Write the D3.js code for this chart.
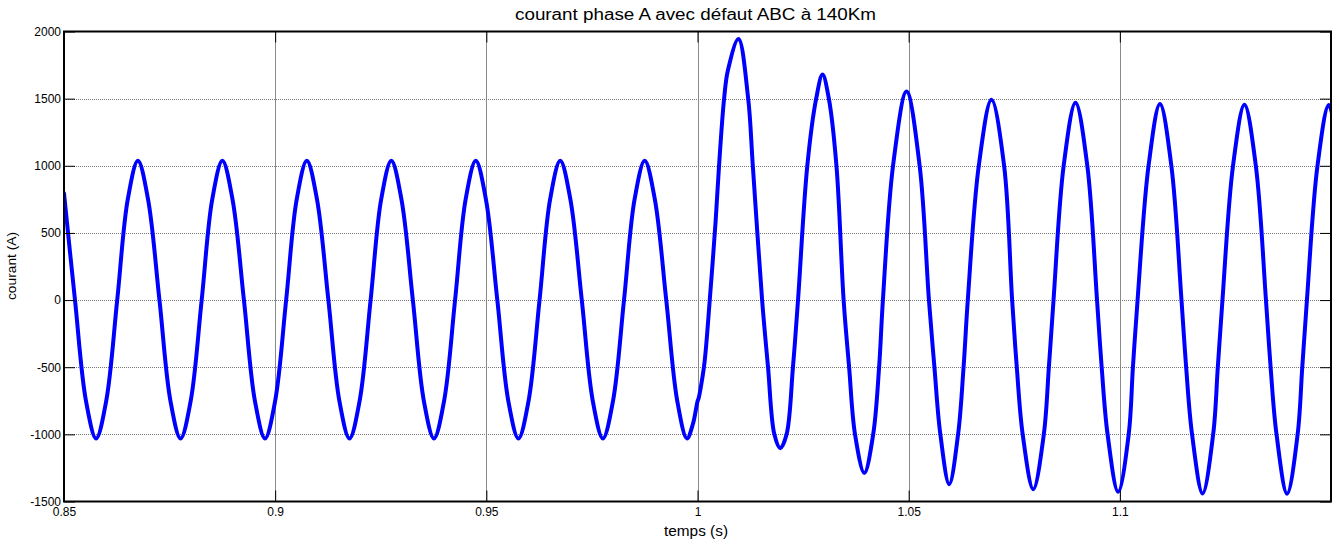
<!DOCTYPE html>
<html>
<head>
<meta charset="utf-8">
<script src="https://cdn.jsdelivr.net/npm/d3@7"></script>
<style>
  html, body { margin: 0; padding: 0; background: #fff; }
  svg { display: block; }
  text { font-family: Arial, "Liberation Sans", sans-serif; fill: #000; }
</style>
</head>
<body>
<svg id="chart" width="1340" height="544"></svg>
<script>
// Phase A current (A) versus time (s), three-phase fault ABC at 140 km applied at t = 1 s.
const chartTitle = "courant phase A avec défaut ABC à 140Km";
const xLabel = "temps (s)";
const yLabel = "courant (A)";

const xTicks = [0.85, 0.9, 0.95, 1, 1.05, 1.1];
const xTickLabels = ["0.85", "0.9", "0.95", "1", "1.05", "1.1"];
const yTicks = [-1500, -1000, -500, 0, 500, 1000, 1500, 2000];
const yTickLabels = ["-1500", "-1000", "-500", "0", "500", "1000", "1500", "2000"];

// Pre-fault steady state (50 Hz, about 1040 A peak)
const preFaultT = [
  0.8500, 0.8526, 0.8552, 0.8576, 0.8600, 0.8626, 0.8651,
  0.8675, 0.8699, 0.8726, 0.8752, 0.8776, 0.8800, 0.8826, 0.8851,
  0.8875, 0.8899, 0.8926, 0.8952, 0.8976, 0.9000, 0.9026, 0.9051,
  0.9075, 0.9099, 0.9126, 0.9152, 0.9176, 0.9200, 0.9226, 0.9251,
  0.9275, 0.9299, 0.9326, 0.9352, 0.9376, 0.9400, 0.9426, 0.9451,
  0.9475, 0.9499, 0.9526, 0.9552, 0.9576, 0.9600, 0.9626, 0.9651,
  0.9675, 0.9699, 0.9726, 0.9752, 0.9776, 0.9800, 0.9826, 0.9851,
  0.9875, 0.9899, 0.9926, 0.9952, 0.9975, 0.9989
];
const preFaultI = [
  795, 0, -750, -1030, -750, 0, 750,
  1037, 750, 0, -750, -1030, -750, 0, 750,
  1037, 750, 0, -750, -1030, -750, 0, 750,
  1037, 750, 0, -750, -1030, -750, 0, 750,
  1037, 750, 0, -750, -1030, -750, 0, 750,
  1037, 750, 0, -750, -1030, -750, 0, 750,
  1037, 750, 0, -750, -1030, -750, 0, 750,
  1037, 750, 0, -750, -1030, -925
];

// Fault transient and post-fault regime
const postFaultT = [
  1.0000, 1.0003, 1.0009, 1.0017, 1.0029, 1.0043, 1.0051, 1.0063, 1.0072,
  1.0097, 1.0120, 1.0131, 1.0153, 1.0167, 1.0182, 1.0196, 1.0211, 1.0226, 1.0238,
  1.0260, 1.0281, 1.0296, 1.0311, 1.0329, 1.0346, 1.0359, 1.0373, 1.0395, 1.0416, 1.0430, 1.0439,
  1.0463, 1.0495, 1.0526, 1.0548, 1.0561, 1.0575, 1.0596, 1.0617, 1.0630, 1.0640,
  1.0666, 1.0696, 1.0726, 1.0745, 1.0756, 1.0770, 1.0795, 1.0820, 1.0832, 1.0843,
  1.0867, 1.0895, 1.0923, 1.0946, 1.0957, 1.0971, 1.0996, 1.1021, 1.1031, 1.1042,
  1.1068, 1.1095, 1.1122, 1.1146, 1.1157, 1.1171, 1.1196, 1.1221, 1.1232, 1.1243,
  1.1268, 1.1295, 1.1322, 1.1346, 1.1357, 1.1371, 1.1396, 1.1421, 1.1432, 1.1443,
  1.1468, 1.1495, 1.1522
];
const postFaultI = [
  -755, -727, -627, -453, 0, 592, 1000, 1500, 1711,
  1944, 1500, 1000, 0, -500, -1000, -1104, -1000, -500, 0,
  1000, 1500, 1679, 1500, 1000, 0, -500, -1000, -1288, -1000, -500, 0,
  1000, 1554, 1000, 0, -500, -1000, -1371, -1000, -500, 0,
  1000, 1492, 1000, 0, -500, -1000, -1408, -1000, -500, 0,
  1000, 1470, 1000, 0, -500, -1000, -1428, -1000, -500, 0,
  1000, 1460, 1000, 0, -500, -1000, -1440, -1000, -500, 0,
  1000, 1455, 1000, 0, -500, -1000, -1442, -1000, -500, 0,
  1000, 1452, 1000
];

const timeS = preFaultT.concat(postFaultT);
const currentA = preFaultI.concat(postFaultI);
const samples = timeS.map((t, i) => ({ t, v: currentA[i] }));

const svg = d3.select("#chart");
const plot = { left: 64, right: 1331, top: 31.5, bottom: 501.5 };

const x = d3.scaleLinear().domain([0.85, 1.15]).range([plot.left, plot.right]);
const y = d3.scaleLinear().domain([-1500, 2000]).range([plot.bottom, plot.top]);

// Grid
const grid = svg.append("g");
grid.selectAll("line.vx").data(xTicks.filter(d => d > 0.85)).join("line")
  .attr("x1", d => Math.round(x(d)) + 0.5).attr("x2", d => Math.round(x(d)) + 0.5)
  .attr("y1", plot.top).attr("y2", plot.bottom)
  .attr("stroke", "#8a8a8a").attr("stroke-width", 1);
grid.selectAll("line.hy").data(yTicks.filter(d => d > -1500 && d < 2000)).join("line")
  .attr("x1", plot.left).attr("x2", plot.right)
  .attr("y1", d => Math.round(y(d)) + 0.5).attr("y2", d => Math.round(y(d)) + 0.5)
  .attr("stroke", "#777").attr("stroke-width", 1).attr("stroke-dasharray", "1,1");

// Curve
svg.append("clipPath").attr("id", "clip").append("rect")
  .attr("x", plot.left).attr("y", plot.top)
  .attr("width", plot.right - plot.left).attr("height", plot.bottom - plot.top);

const line = d3.line().x(d => x(d.t)).y(d => y(d.v)).curve(d3.curveCatmullRom.alpha(0.5));
svg.append("path").datum(samples)
  .attr("clip-path", "url(#clip)")
  .attr("d", line)
  .attr("fill", "none").attr("stroke", "#0000ff")
  .attr("stroke-width", 4).attr("stroke-linejoin", "round").attr("stroke-linecap", "round");

// Axes (ticks pointing inward, mirrored on top and right)
const tickLen = 11;
const axBottom = d3.axisBottom(x).tickValues(xTicks).tickFormat((d, i) => xTickLabels[i])
  .tickSizeInner(-tickLen).tickSizeOuter(0).tickPadding(6);
const axTop = d3.axisTop(x).tickValues(xTicks).tickFormat("")
  .tickSizeInner(-tickLen).tickSizeOuter(0);
const axLeft = d3.axisLeft(y).tickValues(yTicks).tickFormat((d, i) => yTickLabels[i])
  .tickSizeInner(-tickLen).tickSizeOuter(0).tickPadding(3);
const axRight = d3.axisRight(y).tickValues(yTicks).tickFormat("")
  .tickSizeInner(-tickLen).tickSizeOuter(0);

function style(g) {
  g.selectAll(".domain").remove();
  g.selectAll(".tick line").attr("stroke", "#000").attr("stroke-width", 1);
  g.selectAll(".tick text").attr("font-size", 12).attr("font-family", "Arial, 'Liberation Sans', sans-serif").attr("fill", "#000");
}
svg.append("g").attr("transform", `translate(0,${plot.bottom})`).call(axBottom).call(style);
svg.append("g").attr("transform", `translate(0,${plot.top})`).call(axTop).call(style);
svg.append("g").attr("transform", `translate(${plot.left},0)`).call(axLeft).call(style);
svg.append("g").attr("transform", `translate(${plot.right},0)`).call(axRight).call(style);

// Frame
svg.append("rect")
  .attr("x", plot.left).attr("y", plot.top)
  .attr("width", plot.right - plot.left).attr("height", plot.bottom - plot.top)
  .attr("fill", "none").attr("stroke", "#000").attr("stroke-width", 2);

// Labels
svg.append("text").attr("x", 695.5).attr("y", 20).attr("text-anchor", "middle")
  .attr("font-size", 16).attr("textLength", 361).attr("lengthAdjust", "spacingAndGlyphs")
  .text(chartTitle);
svg.append("text").attr("x", 696).attr("y", 536).attr("text-anchor", "middle")
  .attr("font-size", 14).attr("textLength", 64).attr("lengthAdjust", "spacingAndGlyphs")
  .text(xLabel);
svg.append("text").attr("transform", "translate(16,266) rotate(-90)").attr("text-anchor", "middle")
  .attr("font-size", 13.5).attr("textLength", 68).attr("lengthAdjust", "spacingAndGlyphs")
  .text(yLabel);
</script>
</body>
</html>
